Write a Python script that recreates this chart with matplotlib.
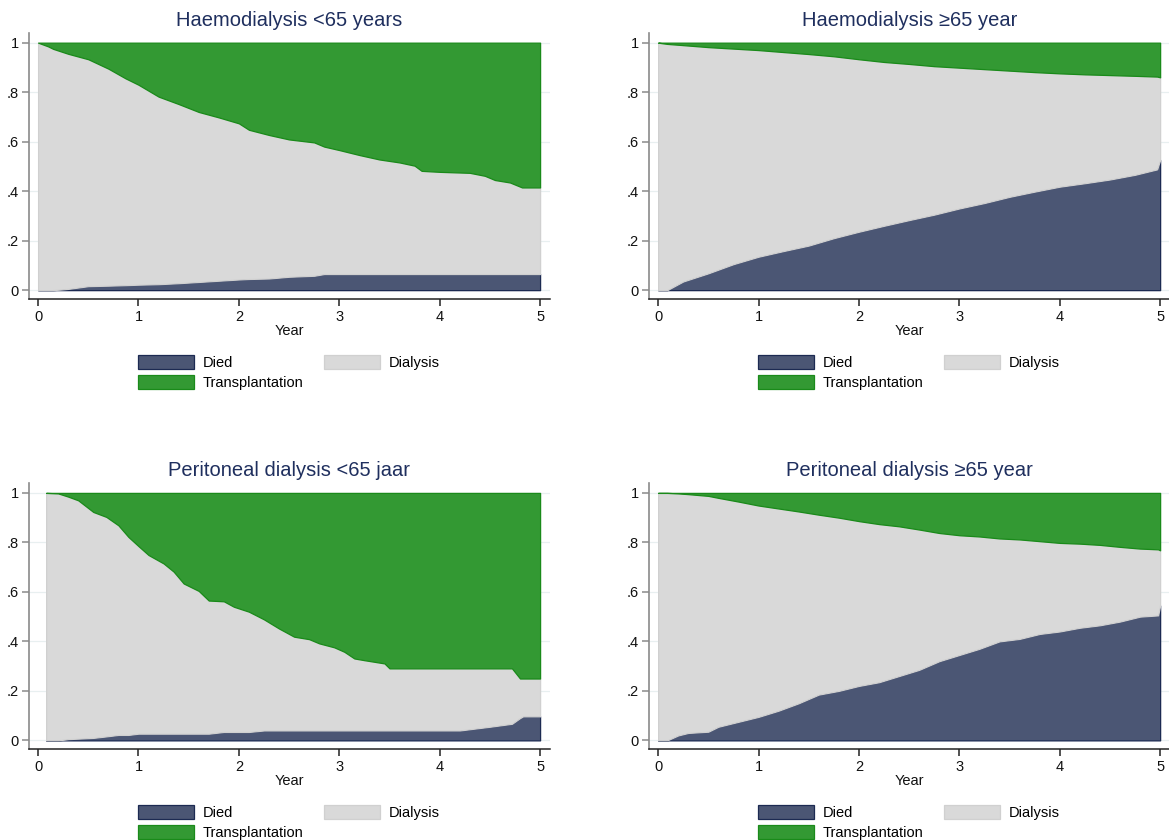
import numpy as np
import matplotlib.pyplot as plt

plt.rcParams['font.family'] = ['Liberation Sans', 'DejaVu Sans']

# Haemodialysis <65 years
t_hd_young = [0, 0.1, 0.15, 0.3, 0.5, 0.7, 0.87, 1.0, 1.2, 1.4, 1.6, 1.8, 2.0, 2.1, 2.3, 2.5,
              2.75, 2.85, 3.0, 3.2, 3.4, 3.6, 3.75, 3.82, 4.0, 4.3, 4.45, 4.55, 4.7, 4.82, 5.0]
died_hd_young = [0, 0, 0, 0.005, 0.016, 0.018, 0.02, 0.022, 0.024, 0.028, 0.033, 0.038, 0.043,
                 0.045, 0.047, 0.054, 0.058, 0.065, 0.065, 0.065, 0.065, 0.065, 0.065, 0.065,
                 0.065, 0.065, 0.065, 0.065, 0.065, 0.065, 0.065]
tx_hd_young = [0, 0.015, 0.025, 0.045, 0.067, 0.105, 0.144, 0.17, 0.218, 0.248, 0.28, 0.302,
               0.326, 0.352, 0.373, 0.391, 0.403, 0.42, 0.434, 0.454, 0.472, 0.484, 0.497,
               0.518, 0.522, 0.526, 0.538, 0.555, 0.565, 0.585, 0.585]

# Haemodialysis >=65 year
t_hd_old = [0, 0.09, 0.25, 0.5, 0.75, 1.0, 1.25, 1.5, 1.75, 2.0, 2.25, 2.5, 2.75, 3.0, 3.25,
            3.5, 3.75, 4.0, 4.25, 4.5, 4.75, 4.97, 5.0]
died_hd_old = [0, 0, 0.035, 0.068, 0.105, 0.135, 0.158, 0.18, 0.21, 0.236, 0.26, 0.283, 0.305,
               0.33, 0.352, 0.377, 0.398, 0.418, 0.432, 0.447, 0.466, 0.488, 0.526]
tx_hd_old = [0, 0.005, 0.01, 0.018, 0.024, 0.03, 0.038, 0.046, 0.055, 0.067, 0.078, 0.086,
             0.095, 0.101, 0.107, 0.113, 0.119, 0.124, 0.128, 0.131, 0.134, 0.137, 0.14]

# Peritoneal dialysis <65 jaar
t_pd_young = [0.08, 0.2, 0.3, 0.4, 0.55, 0.68, 0.8, 0.9, 1.0, 1.1, 1.25, 1.35, 1.45, 1.6, 1.7,
              1.85, 1.95, 2.1, 2.25, 2.4, 2.55, 2.7, 2.8, 2.95, 3.05, 3.15, 3.25, 3.45, 3.5,
              4.2, 4.5, 4.72, 4.8, 4.83, 5.0]
died_pd_young = [0, 0, 0.005, 0.007, 0.01, 0.016, 0.022, 0.022, 0.027, 0.027, 0.027, 0.027,
                 0.027, 0.027, 0.027, 0.034, 0.034, 0.034, 0.04, 0.04, 0.04, 0.04, 0.04, 0.04,
                 0.04, 0.04, 0.04, 0.04, 0.04, 0.04, 0.055, 0.067, 0.09, 0.097, 0.097]
tx_pd_young = [0, 0.002, 0.015, 0.03, 0.077, 0.097, 0.131, 0.178, 0.215, 0.251, 0.285, 0.318,
               0.366, 0.396, 0.435, 0.438, 0.46, 0.48, 0.511, 0.548, 0.581, 0.591, 0.608,
               0.624, 0.642, 0.669, 0.676, 0.689, 0.709, 0.709, 0.709, 0.709, 0.75, 0.75, 0.75]

# Peritoneal dialysis >=65 year
t_pd_old = [0, 0.09, 0.2, 0.3, 0.5, 0.6, 0.8, 1.0, 1.2, 1.4, 1.6, 1.8, 2.0, 2.2, 2.4, 2.6, 2.8,
            3.0, 3.2, 3.4, 3.6, 3.8, 4.0, 4.2, 4.4, 4.6, 4.8, 4.98, 5.0]
died_pd_old = [0, 0, 0.02, 0.03, 0.035, 0.055, 0.075, 0.095, 0.12, 0.15, 0.185, 0.2, 0.22,
               0.235, 0.26, 0.285, 0.32, 0.345, 0.37, 0.4, 0.41, 0.43, 0.44, 0.455, 0.465,
               0.48, 0.5, 0.505, 0.545]
tx_pd_old = [0, 0, 0.002, 0.005, 0.012, 0.02, 0.035, 0.051, 0.063, 0.075, 0.088, 0.1, 0.114,
             0.126, 0.135, 0.148, 0.162, 0.171, 0.176, 0.184, 0.188, 0.195, 0.202, 0.205,
             0.21, 0.218, 0.225, 0.228, 0.232]

titles = ["Haemodialysis <65 years", "Haemodialysis \u226565 year",
          "Peritoneal dialysis <65 jaar", "Peritoneal dialysis \u226565 year"]
panels = [(t_hd_young, died_hd_young, tx_hd_young),
          (t_hd_old, died_hd_old, tx_hd_old),
          (t_pd_young, died_pd_young, tx_pd_young),
          (t_pd_old, died_pd_old, tx_pd_old)]
yticks = [0, 0.2, 0.4, 0.6, 0.8, 1.0]
ytick_labels = ["0", ".2", ".4", ".6", ".8", "1"]

fill_cols = ["#4b5674", "#d9d9d9", "#339933"]
edge_cols = ["#1c2a52", "#d0d0d0", "#1a8a1a"]
title_col = "#1f2f5e"

fig = plt.figure(figsize=(11.69, 8.40), dpi=100)
positions = [[0.0246, 0.644, 0.446, 0.3167], [0.555, 0.644, 0.446, 0.3167],
             [0.0246, 0.108, 0.446, 0.3167], [0.555, 0.108, 0.446, 0.3167]]

for pos, title, (t, died, tx) in zip(positions, titles, panels):
    ax = fig.add_axes(pos)
    t = np.array(t)
    died = np.array(died)
    tx = np.array(tx)
    dialysis = 1 - died - tx
    polys = ax.stackplot(t, died, dialysis, tx, colors=fill_cols,
                         labels=["Died", "Dialysis", "Transplantation"], zorder=2)
    for p, ec in zip(polys, edge_cols):
        p.set_edgecolor(ec)
        p.set_linewidth(0.9)

    ax.set_xlim(-0.093, 5.1)
    ax.set_ylim(-0.036, 1.039)
    ax.set_xticks(range(6))
    ax.set_yticks(yticks)
    ax.set_yticklabels(ytick_labels)
    ax.grid(axis='y', color='#e8eff0', linewidth=0.9, zorder=0)
    ax.set_axisbelow(True)
    for s in ['top', 'right']:
        ax.spines[s].set_visible(False)
    ax.spines['left'].set_color('#8a8a8a')
    ax.spines['left'].set_linewidth(1.2)
    ax.spines['bottom'].set_color('#222222')
    ax.spines['bottom'].set_linewidth(1.1)
    ax.tick_params(axis='y', colors='#8a8a8a', labelcolor='#111111', length=5, width=1.1,
                   labelsize=10.5, pad=2)
    ax.tick_params(axis='x', colors='#222222', labelcolor='#111111', length=5, width=1.1,
                   labelsize=10.5, pad=3)
    ax.set_xlabel("Year", fontsize=10.5, color='#111111', labelpad=0)
    ax.set_title(title, fontsize=14.5, color=title_col, pad=5)

    h, l = ax.get_legend_handles_labels()
    order = [0, 2, 1]
    ax.legend([h[i] for i in order], [l[i] for i in order], ncol=2, loc='upper left',
              bbox_to_anchor=(0.21, -0.21), frameon=False, fontsize=10.5,
              handlelength=3.8, handleheight=1.1, handletextpad=0.6,
              columnspacing=1.45, labelspacing=0.35, borderpad=0, borderaxespad=0)

fig.savefig("out.png", dpi=100)
